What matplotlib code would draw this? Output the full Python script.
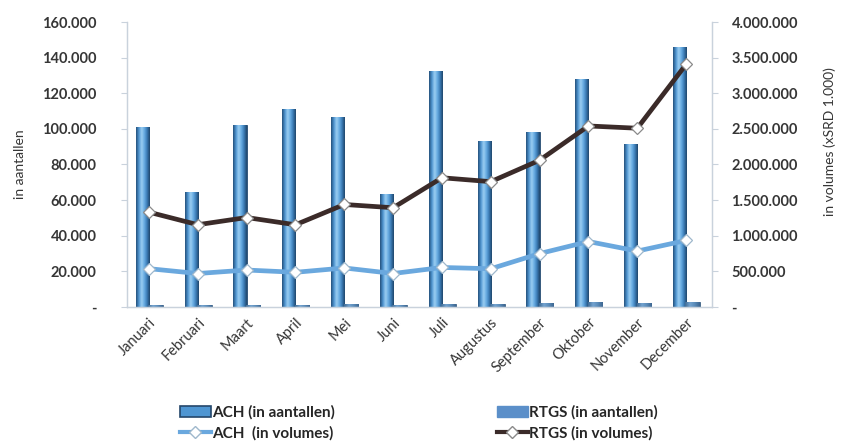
import numpy as np
import matplotlib
matplotlib.use("Agg")
import matplotlib.pyplot as plt
from matplotlib.ticker import FuncFormatter, MultipleLocator
from matplotlib.colors import LinearSegmentedColormap
from matplotlib.lines import Line2D
from matplotlib.patches import Patch

plt.rcParams['font.family'] = ['Lato', 'DejaVu Sans']

months = ["Januari", "Februari", "Maart", "April", "Mei", "Juni", "Juli",
          "Augustus", "September", "Oktober", "November", "December"]

# Number of transactions (left axis)
ach_aantallen = [101000, 64800, 102200, 111300, 106800, 63400, 132400,
                 93100, 98000, 128000, 91700, 145700]
rtgs_aantallen = [1200, 1100, 1300, 1300, 1500, 1400, 1600,
                  1700, 2400, 2600, 2500, 2700]

# Transaction volumes in SRD x 1.000 (right axis)
ach_volumes = [538000, 470000, 519000, 487000, 548000, 470000, 555000,
               537000, 750000, 919000, 785000, 934000]
rtgs_volumes = [1331000, 1155000, 1256000, 1154000, 1439000, 1393000, 1814000,
                1759000, 2060000, 2541000, 2509000, 3406000]

W, H, DPI = 843, 444, 100
fig = plt.figure(figsize=(W / DPI, H / DPI), dpi=DPI)
ax = fig.add_axes([127 / W, 1 - 307 / H, 585 / W, 285 / H])
ax2 = ax.twinx()

x = np.arange(len(months))
bw = 0.27
label_col = "#363636"
spine_col = "#c9d2dc"

# cylinder-like shading for the columns
cyl = LinearSegmentedColormap.from_list(
    "cyl", ["#244f78", "#4c93d0", "#9dcff2", "#67ace2", "#3a7bb5", "#1f4468"])
cyl_flat = LinearSegmentedColormap.from_list(
    "cylflat", ["#3f6b94", "#74a4d0", "#5a8bb9", "#3d6690"])

def shade(bars, cmap):
    grad = np.linspace(0, 1, 64).reshape(1, -1)
    for b in bars:
        x0, y0 = b.get_x(), b.get_y()
        w, h = b.get_width(), b.get_height()
        im = ax.imshow(grad, cmap=cmap, aspect="auto",
                       extent=(x0, x0 + w, y0, y0 + h), zorder=b.get_zorder(),
                       interpolation="bicubic")
        im.set_clip_path(b)

ach_bars = ax.bar(x - bw / 2, ach_aantallen, bw, color="#4f96d2",
                  edgecolor="#24476b", linewidth=0.6, zorder=2)
rtgs_bars = ax.bar(x + bw / 2, rtgs_aantallen, bw * 1.1, color="#5d87b0",
                   edgecolor="#3b5f82", linewidth=0.6, zorder=2)
shade(ach_bars, cyl)
shade(rtgs_bars, cyl_flat)

ax.set_xlim(-0.45, 11.53)
ax.set_ylim(0, 160000)
ax2.set_ylim(0, 4000000)

ax2.plot(x, rtgs_volumes, color="#3b2b29", lw=3.4, marker="D", ms=6.5,
         mfc="white", mec="#8a8a8a", mew=0.9, zorder=4)
ax2.plot(x, ach_volumes, color="#6aa8de", lw=3.4, marker="D", ms=6.5,
         mfc="white", mec="#9fb8cc", mew=0.9, zorder=4)

def dotted(v, pos):
    if v == 0:
        return "-"
    return f"{v:,.0f}".replace(",", ".")

ax.yaxis.set_major_locator(MultipleLocator(20000))
ax2.yaxis.set_major_locator(MultipleLocator(500000))
ax.yaxis.set_major_formatter(FuncFormatter(dotted))
ax2.yaxis.set_major_formatter(FuncFormatter(dotted))

for a in (ax, ax2):
    for s in a.spines.values():
        s.set_color(spine_col)
        s.set_linewidth(0.9)
    a.spines["top"].set_visible(False)

ax.tick_params(axis="y", length=4, width=0.8, color=spine_col, pad=18,
               labelsize=10.5, labelcolor=label_col)
ax2.tick_params(axis="y", length=4, width=0.8, color=spine_col, pad=10,
                labelsize=10.5, labelcolor=label_col)
for t in ax.get_yticklabels() + ax2.get_yticklabels():
    t.set_fontweight("bold")

ax.set_xticks(x)
ax.set_xticklabels(months, rotation=45, ha="right", va="top",
                   rotation_mode="anchor", fontsize=10.5, color=label_col)
ax.tick_params(axis="x", length=0, pad=6)

ax.set_ylabel("in aantallen", fontsize=10, color=label_col)
ax.yaxis.set_label_coords(-0.172, 0.5)
ax2.set_ylabel("in volumes (xSRD 1.000)", fontsize=10, color=label_col)
ax2.yaxis.set_label_coords(1.19, 0.58)

handles = [
    Patch(facecolor="#4f96d2", edgecolor="#24476b", linewidth=1.2),
    Line2D([0], [0], color="#6aa8de", lw=3, marker="D", ms=6,
           mfc="white", mec="#9fb8cc"),
    Patch(facecolor="#5b8fc9", edgecolor="#5b8fc9"),
    Line2D([0], [0], color="#3b2b29", lw=3, marker="D", ms=6,
           mfc="white", mec="#8a8a8a"),
]
labels = ["ACH (in aantallen)", "ACH  (in volumes)",
          "RTGS (in aantallen)", "RTGS (in volumes)"]
leg = fig.legend(handles, labels, ncol=2, loc="center",
                 bbox_to_anchor=(0.497, 0.048), frameon=False,
                 prop={"weight": "bold", "size": 11},
                 handlelength=2.0, handletextpad=0.1, columnspacing=10.6,
                 labelspacing=0.4)
for t in leg.get_texts():
    t.set_color("#262626")

fig.savefig("out.png", dpi=DPI, facecolor="white")
